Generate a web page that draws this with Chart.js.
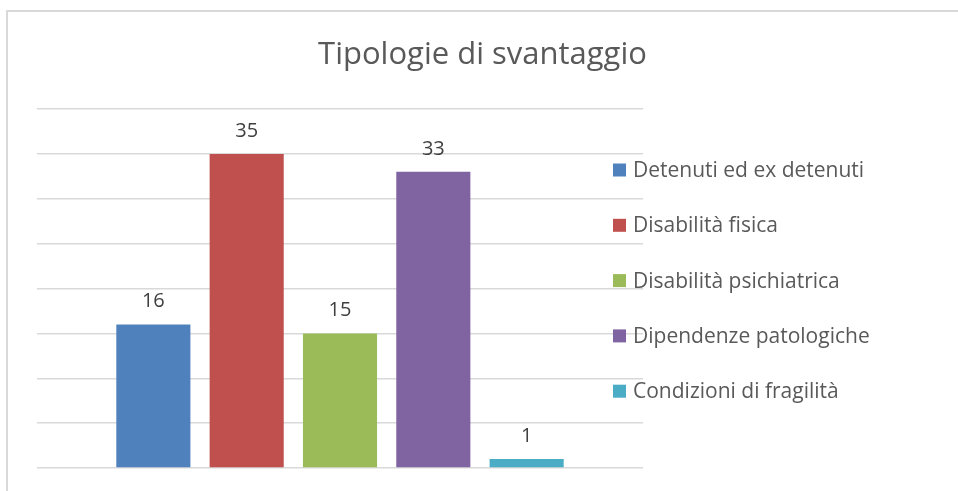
<!DOCTYPE html>
<html lang="it">
<head>
<meta charset="utf-8">
<title>Tipologie di svantaggio</title>
<script src="https://cdn.jsdelivr.net/npm/chart.js@4/dist/chart.umd.min.js"></script>
<style>
    html, body { margin: 0; padding: 0; background: #fff; overflow: hidden; }
    #cornice {
        position: absolute; left: 6px; top: 10px;
        width: 1000px; height: 600px;
        border-left: 2px solid #d9d9d9; border-top: 2px solid #d9d9d9;
    }
    #wrap { position: absolute; left: 0; top: 0; width: 958px; height: 491px; }
</style>
</head>
<body>
<div id="cornice"></div>
<div id="wrap"><canvas id="grafico-svantaggio" width="958" height="491"></canvas></div>
<script>
// dati
const titolo = 'Tipologie di svantaggio';
const categorie = ['Detenuti ed ex detenuti', 'Disabilità fisica', 'Disabilità psichiatrica', 'Dipendenze patologiche', 'Condizioni di fragilità'];
const valori = [16, 35, 15, 33, 1];
const colori = ['#4F81BD', '#C0504D', '#9BBB59', '#8064A2', '#4BACC6'];

const FONT = '"Open Sans", "Noto Sans", sans-serif';

// etichette sopra le barre + legenda a destra (disegnata a mano, sovrapposta alla griglia come in Excel)
const etichettePlugin = {
    id: 'etichette',
    afterDatasetsDraw(chart) {
        const ctx = chart.ctx;
        ctx.save();
        ctx.font = '20px ' + FONT;
        ctx.fillStyle = '#404040';
        ctx.textAlign = 'center';
        ctx.textBaseline = 'alphabetic';
        chart.data.datasets.forEach((ds, i) => {
            const bar = chart.getDatasetMeta(i).data[0];
            ctx.fillText(String(ds.data[0]), bar.x, bar.y - 17);
        });
        ctx.restore();
    },
    afterDraw(chart) {
        const ctx = chart.ctx;
        ctx.save();
        ctx.font = '21px ' + FONT;
        ctx.textBaseline = 'middle';
        ctx.textAlign = 'left';
        chart.data.datasets.forEach((ds, i) => {
            const y = 170 + i * 55.3;
            ctx.fillStyle = ds.backgroundColor;
            ctx.fillRect(613, y - 6.5, 13, 13);
            ctx.fillStyle = '#595959';
            ctx.fillText(ds.label, 633, y + 1);
        });
        ctx.restore();
    }
};

document.addEventListener('DOMContentLoaded', () => {
    const ctx = document.getElementById('grafico-svantaggio');

    new Chart(ctx, {
        type: 'bar',
        data: {
            labels: [''],
            datasets: categorie.map((nome, i) => ({
                label: nome,
                data: [valori[i]],
                backgroundColor: colori[i],
                borderWidth: 0,
                categoryPercentage: 0.77,
                barPercentage: 0.794
            }))
        },
        options: {
            responsive: false,
            animation: false,
            devicePixelRatio: 1,
            layout: {
                padding: { left: 37, right: 30, top: 0, bottom: 23 }
            },
            plugins: {
                legend: { display: false },
                tooltip: { enabled: false },
                title: {
                    display: true,
                    text: titolo,
                    color: '#595959',
                    font: { family: FONT, size: 31, weight: 'normal', lineHeight: 1.2 },
                    padding: { top: 37, bottom: 34.8 }
                }
            },
            scales: {
                x: {
                    display: true,
                    grid: { display: false, drawTicks: false },
                    border: { display: false },
                    ticks: { display: false }
                },
                y: {
                    min: 0,
                    max: 40,
                    ticks: { display: false, stepSize: 5 },
                    border: { display: false },
                    grid: { color: '#d9d9d9', lineWidth: 1.5, drawTicks: false },
                    afterFit(s) { s.width = 0; }
                },
                destra: {
                    position: 'right',
                    display: true,
                    grid: { display: false, drawTicks: false },
                    border: { display: false },
                    ticks: { display: false },
                    afterFit(s) { s.width = 285; }
                }
            }
        },
        plugins: [etichettePlugin]
    });
});
</script>
</body>
</html>
